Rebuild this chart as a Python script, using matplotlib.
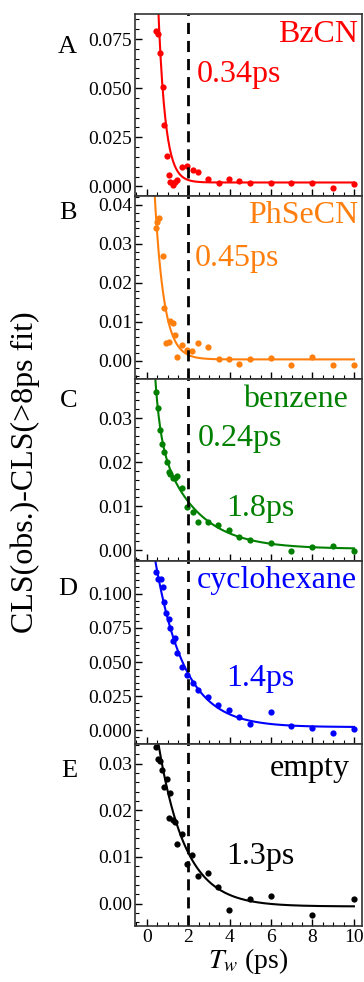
import matplotlib
matplotlib.use('Agg')
import matplotlib.pyplot as plt
import numpy as np
from matplotlib.ticker import MultipleLocator

plt.rcParams['font.family'] = ['Liberation Serif', 'DejaVu Serif']
plt.rcParams['mathtext.fontset'] = 'stix'

# ---- data ----
tw_a = [0.45, 0.56, 0.64, 0.76, 0.85, 0.96, 1.06, 1.14, 1.25, 1.37, 1.48, 1.70, 1.96,
        2.25, 2.46, 2.96, 3.47, 3.97, 4.47, 4.99, 5.98, 6.98, 7.99, 8.97, 10.0]
cls_a = [0.0790, 0.0774, 0.0677, 0.0504, 0.0313, 0.0156, 0.0059, 0.0020, 0.0007, 0.0020,
         0.0034, 0.0098, 0.0102, 0.0081, 0.0071, 0.0039, 0.0019, 0.0039, 0.0030, 0.0015,
         0.0015, 0.0019, 0.0015, -0.0008, 0.0012]

tw_b = [0.42, 0.51, 0.61, 0.76, 0.84, 0.93, 1.05, 1.14, 1.25, 1.35, 1.45, 1.69, 1.96,
        2.19, 2.46, 2.96, 3.47, 3.97, 4.47, 4.99, 5.98, 6.98, 7.99, 8.97, 10.0]
cls_b = [0.0340, 0.0357, 0.0366, 0.0269, 0.0135, 0.0046, 0.0048, 0.0102, 0.0097, 0.0066,
         0.0010, 0.0040, 0.0028, 0.0024, 0.0044, 0.0036, 0.0003, 0.0005, -0.0008, 0.0005,
         0.0006, -0.0011, 0.0008, -0.0011, -0.0011]

tw_c = [0.45, 0.55, 0.64, 0.74, 0.85, 0.95, 1.05, 1.14, 1.25, 1.35, 1.47, 1.69, 1.96,
        2.22, 2.46, 2.96, 3.46, 3.97, 4.47, 4.99, 5.98, 6.98, 7.99, 8.97, 10.0]
cls_c = [0.0359, 0.0323, 0.0274, 0.0242, 0.0224, 0.0201, 0.0177, 0.0172, 0.0165, 0.0163,
         0.0168, 0.0142, 0.0098, 0.0086, 0.0064, 0.0065, 0.0058, 0.0045, 0.0029, 0.0023,
         0.0017, -0.0002, 0.0007, 0.0010, -0.0002]

tw_d = [0.45, 0.53, 0.66, 0.76, 0.84, 0.93, 1.05, 1.14, 1.24, 1.35, 1.45, 1.69, 1.96,
        2.21, 2.46, 2.96, 3.46, 3.97, 4.47, 4.99, 5.98, 6.98, 7.99, 8.97, 10.0]
cls_d = [0.1156, 0.1107, 0.1107, 0.1046, 0.0937, 0.0856, 0.0815, 0.0747, 0.0657, 0.0676,
         0.0567, 0.0462, 0.0406, 0.0348, 0.0292, 0.0243, 0.0185, 0.0146, 0.0097, 0.0046,
         0.0134, 0.0029, 0.0019, -0.0022, 0.0007]

tw_e = [0.45, 0.53, 0.64, 0.74, 0.84, 0.95, 1.05, 1.14, 1.25, 1.35, 1.45, 1.70, 1.96,
        2.19, 2.46, 2.96, 3.46, 3.97, 4.99, 5.98, 7.99, 10.0]
cls_e = [0.0335, 0.0309, 0.0306, 0.0287, 0.0251, 0.0267, 0.0183, 0.0238, 0.0180, 0.0175,
         0.0128, 0.0149, 0.0085, 0.0105, 0.0059, 0.0066, 0.0036, -0.0014, 0.0009, 0.0017,
         -0.0025, 0.0011]

# fit parameters: amplitudes, time constants (ps), offset
fit_a = ([0.449], [0.34], 0.0020)
fit_b = ([0.098], [0.45], 0.0003)
fit_c = ([0.0698, 0.0325], [0.24, 1.8], 0.0003)
fit_d = ([0.163], [1.4], 0.0024)
fit_e = ([0.0536], [1.3], -0.0006)

names = ['BzCN', 'PhSeCN', 'benzene', 'cyclohexane', 'empty']
letters = ['A', 'B', 'C', 'D', 'E']
colors = ['#ff0000', '#ff7f0e', '#008000', '#0000ff', '#000000']

panels = [
    (tw_a, cls_a, fit_a, (-0.0051, 0.0877), 0.025, ['0.34ps'], [(2.4, 0.057)], (10.2, 0.0775), 0.82),
    (tw_b, cls_b, fit_b, (-0.0047, 0.0422), 0.01, ['0.45ps'], [(2.3, 0.0262)], (10.2, 0.0374), 0.91),
    (tw_c, cls_c, fit_c, (-0.0025, 0.0389), 0.01, ['0.24ps', '1.8ps'],
     [(2.45, 0.0253), (3.83, 0.0095)], (9.7, 0.0341), 0.88),
    (tw_d, cls_d, fit_d, (-0.0097, 0.1238), 0.025, ['1.4ps'], [(3.83, 0.0377)], (10.15, 0.1095), 0.85),
    (tw_e, cls_e, fit_e, (-0.0048, 0.0343), 0.01, ['1.3ps'], [(3.83, 0.0102)], (9.8, 0.0289), 0.85),
]

fig, axes = plt.subplots(5, 1, figsize=(3.64, 9.82), dpi=100, sharex=True)
fig.subplots_adjust(left=0.371, right=0.995, top=0.9857, bottom=0.057, hspace=0)

xfit = np.linspace(0.2, 10, 400)
for i, ax in enumerate(axes):
    tw, cls, fit, ylim, ystep, taus, taupos, namepos, lety = panels[i]
    col = colors[i]
    amps, tcs, off = fit
    yfit = off + sum(a * np.exp(-xfit / t) for a, t in zip(amps, tcs))
    ax.plot(xfit, yfit, color=col, lw=1.5)
    ax.plot(tw, cls, 'o', color=col, ms=4.5, mec='none')
    ax.axvline(2, color='black', ls=(0, (4, 2.5)), lw=2)
    ax.set_xlim(-0.57, 10.4)
    ax.set_ylim(*ylim)
    ax.yaxis.set_major_locator(MultipleLocator(ystep))
    ax.yaxis.set_minor_locator(MultipleLocator(ystep / 5))
    ax.xaxis.set_major_locator(MultipleLocator(2))
    ax.xaxis.set_minor_locator(MultipleLocator(0.5))
    ax.tick_params(which='both', direction='in', top=False, right=False, labelsize=14)
    ax.tick_params(which='major', length=5, width=1, pad=2)
    ax.tick_params(which='minor', length=3, width=0.8)
    if ystep == 0.025:
        ax.yaxis.set_major_formatter(plt.FormatStrFormatter('%.3f'))
    else:
        ax.yaxis.set_major_formatter(plt.FormatStrFormatter('%.2f'))
    for sp in ax.spines.values():
        sp.set_linewidth(1.2)
        sp.set_color('#333333')
    ax.text(namepos[0], namepos[1], names[i], color=col, fontsize=23,
            ha='right', va='center')
    for t, (tx, ty) in zip(taus, taupos):
        ax.text(tx, ty, t, color=col, fontsize=23, ha='left', va='center')
    ax.text(-0.255, lety, letters[i], transform=ax.transAxes, fontsize=19,
            ha='right', va='center')

axes[-1].set_xlabel('$T_w$ (ps)', fontsize=20, labelpad=0)
fig.text(0.069, 0.519, 'CLS(obs.)-CLS(>8ps fit)', rotation=90, fontsize=23,
         ha='center', va='center')

fig.savefig('out.png', dpi=100)
